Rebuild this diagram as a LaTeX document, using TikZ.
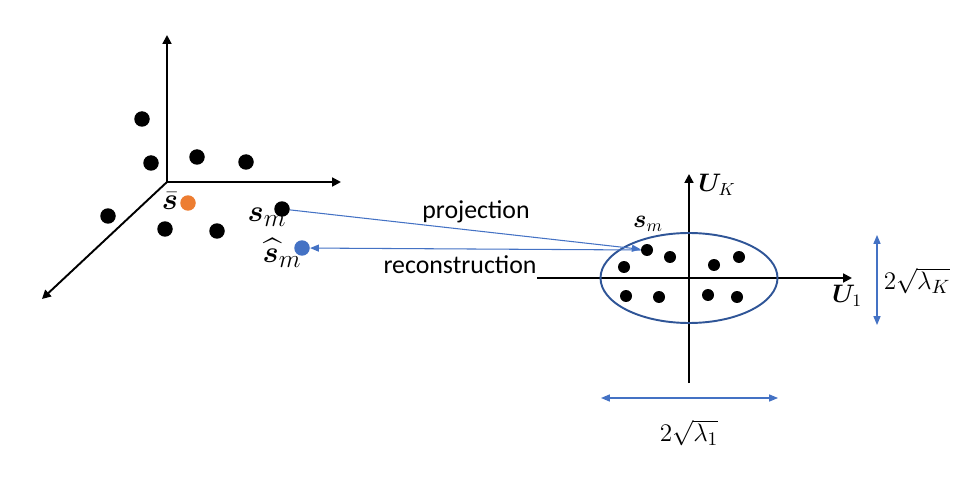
\documentclass[tikz,border=0pt]{standalone}
\usepackage{amsmath}
\usepackage{amssymb}
\usepackage{bm}
\usepackage[no-math]{fontspec}
\setmainfont{Carlito}
\usetikzlibrary{arrows.meta}
\definecolor{pcablue}{RGB}{68,114,196}
\definecolor{pcaorange}{RGB}{237,125,49}
\definecolor{pcanavy}{RGB}{47,85,151}
\tikzset{
	dotstyle/.style={circle,fill=black,inner sep=0pt,minimum size=0.31cm},
	smalldotstyle/.style={circle,fill=black,inner sep=0pt,minimum size=0.24cm},
	axisstyle/.style={line width=1.1pt,-{Triangle[length=5pt,width=5pt]}},
	bluearrowstyle/.style={draw=pcablue,line width=0.6pt,-{Triangle[length=5pt,width=4pt]}},
	bigmathstyle/.style={inner sep=0pt,font=\fontsize{19}{21}\selectfont},
	mathstyle/.style={inner sep=0pt,font=\fontsize{14}{16}\selectfont},
	textstyle/.style={inner sep=0pt,font=\fontsize{14.7}{17}\selectfont}
}

\begin{document}
\begin{tikzpicture}[x=0.02cm,y=-0.02cm]
		\useasboundingbox (0,0) rectangle (969,479);
		% 3D axes
		\coordinate (o) at (167,182);
		\coordinate (zaxis) at (167,35);
		\coordinate (xaxis) at (341,182);
		\coordinate (yaxis) at (42,299);
		\draw[axisstyle] (o)--(zaxis);
		\draw[axisstyle] (o)--(xaxis);
		\draw[axisstyle] (o)--(yaxis);
		% samples
		\node[dotstyle] (p1) at (142,119) {};
		\node[dotstyle] (p2) at (151,163) {};
		\node[dotstyle] (p3) at (197,157) {};
		\node[dotstyle] (p4) at (246,162) {};
		\node[dotstyle] (p5) at (108,216) {};
		\node[dotstyle] (p6) at (165,229) {};
		\node[dotstyle] (p7) at (217,231) {};
		\node[dotstyle] (sm) at (282,209) {};
		\node[dotstyle,fill=pcaorange] (mean) at (188,203) {};
		\node[dotstyle,fill=pcablue] (rec) at (302,248) {};
		\node[bigmathstyle] (meanlabel) at (170,201) {$\bar{\bm{s}}$};
		\node[bigmathstyle] (smlabel) at (267,217) {$\bm{s}_m$};
		\node[bigmathstyle] (reclabel) at (282,253) {$\widehat{\bm{s}}_m$};
		% PCA axes
		\coordinate (c) at (689,278);
		\coordinate (uk) at (689,174);
		\coordinate (ukend) at (689,383);
		\coordinate (u1) at (852,278);
		\coordinate (u1end) at (537,278);
		\draw[axisstyle] (ukend)--(uk);
		\draw[axisstyle] (u1end)--(u1);
		\draw[pcanavy,line width=1.1pt] (c) ellipse (88.5 and 45);
		\node[smalldotstyle] (q1) at (647,250) {};
		\node[smalldotstyle] (q2) at (670,257) {};
		\node[smalldotstyle] (q3) at (624,267) {};
		\node[smalldotstyle] (q4) at (714,265) {};
		\node[smalldotstyle] (q5) at (739,257) {};
		\node[smalldotstyle] (q6) at (626,296) {};
		\node[smalldotstyle] (q7) at (659,297) {};
		\node[smalldotstyle] (q8) at (708,295) {};
		\node[smalldotstyle] (q9) at (737,297) {};
		\node[mathstyle] (uklabel) at (717,185) {$\bm{U}_K$};
		\node[mathstyle] (u1label) at (847,296) {$\bm{U}_1$};
		\node[mathstyle] (qlabel) at (648,224) {$\bm{s}_m$};
		% projection and reconstruction
		\draw[bluearrowstyle] (sm)--(q1);
		\draw[bluearrowstyle] (q1.west)--(rec);
		\node[textstyle] (projlabel) at (476,212) {projection};
		\node[textstyle] (reclabel2) at (460,265) {reconstruction};
		% spreads
		\coordinate (vtop) at (877,235);
		\coordinate (vbot) at (877,325);
		\coordinate (hleft) at (601,398);
		\coordinate (hright) at (778,398);
		\draw[bluearrowstyle,{Triangle[length=5pt,width=4pt]}-{Triangle[length=5pt,width=4pt]}] (vtop)--(vbot);
		\draw[bluearrowstyle,{Triangle[length=5pt,width=4pt]}-{Triangle[length=5pt,width=4pt]}] (hleft)--(hright);
		\node[mathstyle,font=\fontsize{15}{17}\selectfont] (lkLabel) at (917,281) {$2\sqrt{\lambda_K}$};
		\node[mathstyle,font=\fontsize{15}{17}\selectfont] (l1Label) at (689,433) {$2\sqrt{\lambda_1}$};
		\end{tikzpicture}
\end{document}
